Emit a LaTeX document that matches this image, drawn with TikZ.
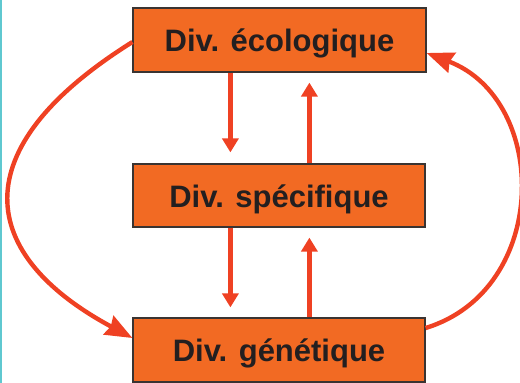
\documentclass[tikz,border=0pt]{standalone}
\usepackage{fontspec}
\setmainfont{Liberation Sans}
\usetikzlibrary{arrows.meta}
\definecolor{boxfill}{HTML}{F26A23}
\definecolor{boxline}{HTML}{3A3432}
\definecolor{arrowred}{HTML}{EF4123}
\definecolor{edgeteal}{HTML}{5FC8D0}
\definecolor{textdark}{HTML}{231F20}
\tikzset{
  levelbox/.style={draw=boxline, line width=1.2pt, fill=boxfill, inner sep=0pt,
    minimum width=292pt, minimum height=64pt, text height=23pt, text depth=0pt,
    font=\fontsize{31pt}{36pt}\selectfont\bfseries, text=textdark},
  linkarrow/.style={draw=arrowred, line width=4.2pt,
    -{Triangle[length=14pt,width=16pt]}},
  cyclearrow/.style={draw=arrowred, line width=4.4pt,
    -{Stealth[length=27pt,width=21pt,inset=2.5pt]}}
}
\begin{document}
\begin{tikzpicture}[x=1pt,y=-1pt]
\useasboundingbox (0,0) rectangle (520,383);
% thin coloured strip along the left edge
\fill[edgeteal] (0,0) rectangle (1.6,383);

% the three levels of diversity
\node[levelbox, minimum width=293pt] (eco) at (279.5,40) {Div. écologique};
\node[levelbox, minimum height=63pt] (spe) at (279,195.5) {Div. spécifique};
\node[levelbox] (gen) at (279,350) {Div. génétique};

% links between neighbouring levels
\draw[linkarrow, shorten >=11pt] ([xshift=98pt]eco.south west) -- ([xshift=98pt]spe.north west);
\draw[linkarrow, shorten >=10pt] ([xshift=177pt]spe.north west) -- ([xshift=177pt]eco.south west);
\draw[linkarrow, shorten >=10pt] ([xshift=98pt]spe.south west) -- ([xshift=98pt]gen.north west);
\draw[linkarrow, shorten >=10pt] ([xshift=177pt]gen.north west) -- ([xshift=177pt]spe.south west);

% the outer cycle
\draw[cyclearrow] ([yshift=-2pt]eco.west)
  .. controls (-40,150) and (-22,255) .. ([yshift=12pt]gen.west);
\draw[cyclearrow] ([yshift=22pt]gen.east)
  .. controls (550,290) and (550,100) .. ([yshift=-13pt]eco.east);
\end{tikzpicture}
\end{document}
